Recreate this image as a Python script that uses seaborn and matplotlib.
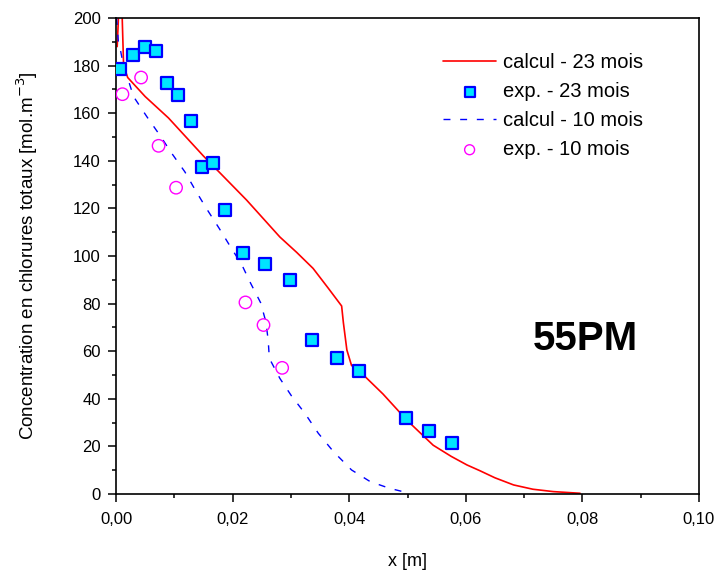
import matplotlib
matplotlib.use("Agg")
import matplotlib.pyplot as plt
from matplotlib.ticker import MultipleLocator, FuncFormatter
import seaborn as sns

# calcul - 23 mois (courbe rouge)
calc23_x = [0.0002, 0.0005, 0.0010, 0.0013, 0.0020, 0.0050, 0.0090, 0.0150, 0.0224,
            0.0281, 0.0310, 0.0338, 0.0364, 0.0387, 0.0390, 0.0396, 0.0404, 0.0416,
            0.0458, 0.0499, 0.0544, 0.0575, 0.0602, 0.0624, 0.0650, 0.0682, 0.0715,
            0.0750, 0.0796]
calc23_y = [188, 205, 205, 180, 175, 167, 158, 142, 123.5, 108, 101.5, 94.8, 86.5, 79,
            72, 60.5, 54, 52, 42, 31, 20.5, 15.8, 12.2, 9.8, 6.8, 3.8, 2.0, 1.0, 0.3]

# calcul - 10 mois (courbe bleue pointillée)
calc10_x = [0.0001, 0.0004, 0.0008, 0.0012, 0.0030, 0.0053, 0.0075, 0.0096, 0.0118,
            0.0136, 0.0155, 0.0177, 0.0196, 0.0216, 0.0231, 0.0248, 0.0257, 0.0261,
            0.0263, 0.0281, 0.0301, 0.0324, 0.0347, 0.0373, 0.0404, 0.0436, 0.0469, 0.0500]
calc10_y = [200, 190, 186, 181, 167, 158.5, 150.8, 143, 135.4, 127.7, 120, 111.6, 104,
            96.2, 88.5, 80.4, 72.4, 64.7, 57, 48.6, 41.2, 33.9, 25.5, 17.8, 10.1, 5.2,
            2.4, 0.5]

# exp. - 23 mois
exp23_x = [0.0007, 0.0029, 0.0049, 0.0069, 0.0087, 0.0107, 0.0128, 0.0148, 0.0167,
           0.0187, 0.0217, 0.0256, 0.0298, 0.0337, 0.0379, 0.0416, 0.0497, 0.0537, 0.0576]
exp23_y = [178.6, 184.5, 188, 186, 172.8, 167.6, 156.7, 137.5, 139.2, 119.3, 101.1,
           96.5, 89.9, 64.7, 57.3, 51.8, 31.8, 26.6, 21.3]

# exp. - 10 mois
exp10_x = [0.0011, 0.0043, 0.0073, 0.0103, 0.0222, 0.0253, 0.0285]
exp10_y = [168, 175, 146.3, 128.7, 80.5, 71, 53]

sns.set_style("ticks")
plt.rcParams['font.family'] = ['Liberation Sans', 'DejaVu Sans']
plt.rcParams['text.color'] = 'black'
plt.rcParams['axes.labelcolor'] = 'black'
plt.rcParams['xtick.color'] = 'black'
plt.rcParams['ytick.color'] = 'black'

fig = plt.figure(figsize=(7.18, 5.74), dpi=100)
ax = fig.add_axes([0.1616, 0.1394, 0.8119, 0.8292])

sns.lineplot(x=calc23_x, y=calc23_y, sort=False, estimator=None, color='#ff0000',
             lw=1.2, ax=ax, label='calcul - 23 mois')
sns.scatterplot(x=exp23_x, y=exp23_y, marker='s', s=75, color='#00e5ff',
                edgecolor='#0000ff', linewidth=1.6, ax=ax, label='exp. - 23 mois', zorder=3)
sns.lineplot(x=calc10_x, y=calc10_y, sort=False, estimator=None, color='#0000ff',
             lw=1.0, ax=ax, label='calcul - 10 mois', dashes=False)
ax.lines[-1].set_dashes([5, 7])
sns.scatterplot(x=exp10_x, y=exp10_y, marker='o', s=80, facecolor='none',
                edgecolor='#ff00ff', linewidth=1.0, ax=ax, label='exp. - 10 mois', zorder=3)

ax.set_xlim(0, 0.10)
ax.set_ylim(0, 200)
ax.xaxis.set_major_locator(MultipleLocator(0.02))
ax.xaxis.set_minor_locator(MultipleLocator(0.01))
ax.yaxis.set_major_locator(MultipleLocator(20))
ax.yaxis.set_minor_locator(MultipleLocator(10))
ax.xaxis.set_major_formatter(FuncFormatter(lambda v, p: f"{v:.2f}".replace('.', ',')))
ax.tick_params(which='major', length=6, width=1.1, labelsize=12, direction='out')
ax.tick_params(which='minor', length=3, width=1.1, direction='out')
ax.tick_params(axis='x', which='major', pad=7)
ax.tick_params(axis='y', which='major', pad=5)
for s in ax.spines.values():
    s.set_visible(True)
    s.set_linewidth(1.2)
    s.set_color('black')

ax.set_xlabel('x [m]', fontsize=13, labelpad=19)
ax.set_ylabel('Concentration en chlorures totaux [mol.m$^{-3}$]', fontsize=13.5, labelpad=24)

ax.text(0.0806, 65, '55PM', fontsize=29, fontweight='bold', ha='center', va='center',
        color='black')

leg = ax.legend(loc='upper right', bbox_to_anchor=(0.935, 0.965), frameon=False,
                fontsize=14.5, handlelength=2.6, handletextpad=0.35, labelspacing=0.5,
                markerscale=0.8)

fig.savefig('out.png', dpi=100)
